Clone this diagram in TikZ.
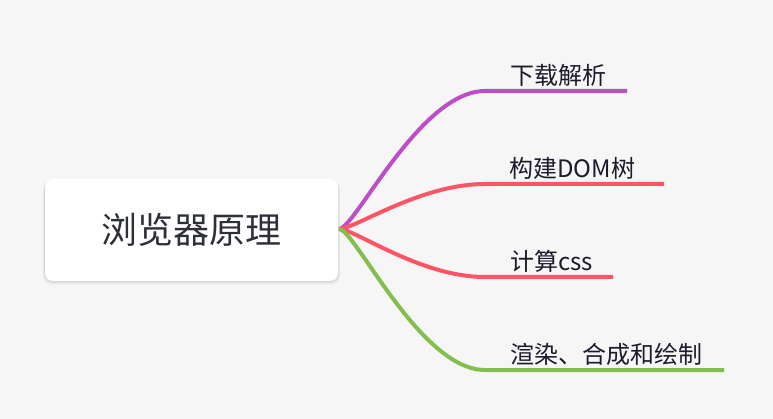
\documentclass[tikz,border=0pt]{standalone}
\usepackage{fontspec}
\newfontfamily\cjk{Noto Sans CJK SC}
\definecolor{bg}{HTML}{F6F6F6}
\definecolor{cpurple}{HTML}{BE4EC8}
\definecolor{cred}{HTML}{FF5567}
\definecolor{cgreen}{HTML}{84BE4E}
\definecolor{ctext}{HTML}{2E3038}
\definecolor{ltext}{HTML}{1C1B2C}
\begin{document}
\begin{tikzpicture}[x=1pt,y=-1pt,
  branch/.style={line width=4pt},
  lbl/.style={anchor=south west,inner sep=0pt,font=\cjk\fontsize{24}{27}\selectfont,text=ltext},
  rootbox/.style={fill=white,rounded corners=8pt,minimum width=293pt,minimum height=102pt,inner sep=0pt,
    font=\cjk\fontsize{36}{40}\selectfont,text=ctext}]
\fill[bg] (0,0) rectangle (773,419);
\useasboundingbox (0,0) rectangle (773,419);
% soft shadow
\foreach \o/\a in {4/0.02,3/0.03,2/0.035,1/0.04}{
  \fill[black,opacity=\a,rounded corners=9pt] (45-\o*0.6,179+1) rectangle (338+\o*0.6,281+\o);
}
\node[rootbox] (root) at (191.5,230) {浏览器原理};
\coordinate (o) at (339,229);
% branch end points
\coordinate (p1) at (485,91);  \coordinate (e1) at (627,91);
\coordinate (p2) at (485,184); \coordinate (e2) at (664,184);
\coordinate (p3) at (485,277); \coordinate (e3) at (613,277);
\coordinate (p4) at (485,370); \coordinate (e4) at (724,370);
\draw[branch,cpurple] (o) .. controls (355,229) and (420,91) .. (p1) -- (e1);
\draw[branch,cred] (o) .. controls (355,229) and (420,184) .. (p2) -- (e2);
\draw[branch,cred] (o) .. controls (355,229) and (420,277) .. (p3) -- (e3);
\draw[branch,cgreen] (o) .. controls (355,229) and (420,370) .. (p4) -- (e4);
\node[lbl] (l1) at (510,87) {下载解析};
\node[lbl] (l2) at (509,180) {构建DOM树};
\node[lbl] (l3) at (510,273) {计算css};
\node[lbl] (l4) at (510,366) {渲染、合成和绘制};
\end{tikzpicture}
\end{document}
